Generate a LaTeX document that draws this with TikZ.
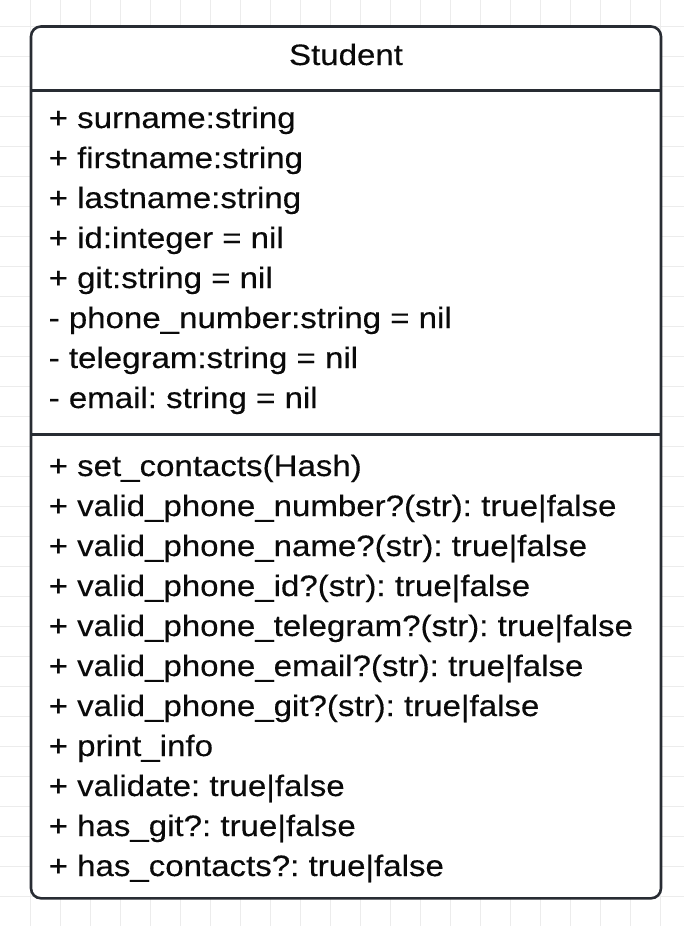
\documentclass[tikz,border=0pt]{standalone}
\usepackage{fontspec}
\setmainfont{Liberation Sans}[FakeStretch=1.12,FakeBold=0.3]
\definecolor{gridline}{HTML}{ECECEC}
\definecolor{umlstroke}{HTML}{282C33}
\definecolor{umltext}{HTML}{0A0A0A}
\begin{document}
\frenchspacing
\begin{tikzpicture}[x=1pt,y=-1pt,
  umlbox/.style={draw=umlstroke,line width=2.6pt,fill=white,rounded corners=10pt},
  divider/.style={draw=umlstroke,line width=2.6pt},
  member/.style={anchor=base west,inner sep=0pt,text=umltext,
    font=\fontsize{29.5}{40}\selectfont\frenchspacing},
  classname/.style={anchor=base,inner sep=0pt,text=umltext,
    font=\fontsize{29.5}{40}\selectfont}]
  % canvas and background grid
  \useasboundingbox (0,0) rectangle (684,926);
  \fill[white] (0,0) rectangle (684,926);
  \foreach \gx in {30,60,...,660} \draw[gridline,line width=1pt] (\gx,0) -- (\gx,926);
  \foreach \gy in {-3.3,26.7,...,926} \draw[gridline,line width=1pt] (0,\gy) -- (684,\gy);

  % class frame and compartments
  \draw[umlbox] (31,26.5) rectangle (661,898.3);
  \coordinate (d1l) at (31,90.5);   \coordinate (d1r) at (661,90.5);
  \coordinate (d2l) at (31,434.5);  \coordinate (d2r) at (661,434.5);
  \draw[divider] (d1l) -- (d1r);
  \draw[divider] (d2l) -- (d2r);

  % class name
  \node[classname] (title) at (346,65) {Student};

  % attributes
  \node[member] (a1) at (48.5,128) {+ surname:string};
  \node[member] (a2) at (48.5,168) {+ firstname:string};
  \node[member] (a3) at (48.5,208) {+ lastname:string};
  \node[member] (a4) at (48.5,248) {+ id:integer = nil};
  \node[member] (a5) at (48.5,288) {+ git:string = nil};
  \node[member] (a6) at (48.5,328) {- phone\_number:string = nil};
  \node[member] (a7) at (48.5,368) {- telegram:string = nil};
  \node[member] (a8) at (48.5,408) {- email: string = nil};

  % operations
  \node[member] (m1)  at (48.5,476) {+ set\_contacts(Hash)};
  \node[member] (m2)  at (48.5,516) {+ valid\_phone\_number?(str): true|false};
  \node[member] (m3)  at (48.5,556) {+ valid\_phone\_name?(str): true|false};
  \node[member] (m4)  at (48.5,596) {+ valid\_phone\_id?(str): true|false};
  \node[member] (m5)  at (48.5,636) {+ valid\_phone\_telegram?(str): true|false};
  \node[member] (m6)  at (48.5,676) {+ valid\_phone\_email?(str): true|false};
  \node[member] (m7)  at (48.5,716) {+ valid\_phone\_git?(str): true|false};
  \node[member] (m8)  at (48.5,756) {+ print\_info};
  \node[member] (m9)  at (48.5,796) {+ validate: true|false};
  \node[member] (m10) at (48.5,836) {+ has\_git?: true|false};
  \node[member] (m11) at (48.5,876) {+ has\_contacts?: true|false};
\end{tikzpicture}
\end{document}
